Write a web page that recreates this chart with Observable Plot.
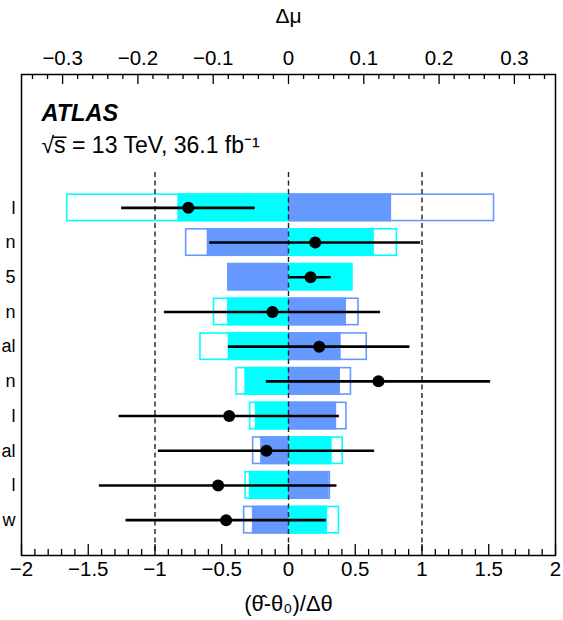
<!DOCTYPE html>
<html>
<head>
<meta charset="utf-8">
<script src="https://cdn.jsdelivr.net/npm/d3@7"></script>
<script src="https://cdn.jsdelivr.net/npm/@observablehq/plot@0.6"></script>
<style>
  html, body { margin: 0; padding: 0; background: #fff; }
  #chart svg { display: block; }
</style>
</head>
<body>
<div id="chart"></div>
<script>
// ---- data ----
const labels = ["l", "n", "5", "n", "al", "n", "l", "al", "l", "w"];
const pull    = [-0.75, 0.20, 0.165, -0.12, 0.23, 0.674, -0.444, -0.165, -0.527, -0.467];
const pullErr = [0.50, 0.79, 0.155, 0.81, 0.68, 0.84, 0.825, 0.81, 0.89, 0.75];
// impacts on mu (Δμ) of +1σ (cyan) and −1σ (blue) variations
const impactUpPost   = [-0.147, 0.114, 0.086, -0.081, -0.080, -0.058, -0.044, 0.058, -0.052, 0.052];
const impactDownPost = [0.137, -0.108, -0.081, 0.077, 0.070, 0.069, 0.064, -0.037, 0.054, -0.048];
const impactUpPre    = [-0.295, 0.145, null, -0.100, -0.118, -0.070, -0.052, 0.073, -0.058, 0.068];
const impactDownPre  = [0.274, -0.137, null, 0.094, 0.105, 0.084, 0.078, -0.048, 0.056, -0.060];
const pullTicks  = [-2, -1.5, -1, -0.5, 0, 0.5, 1, 1.5, 2];
const muTicks    = [-0.3, -0.2, -0.1, 0, 0.1, 0.2, 0.3];
const refLines   = [-1, 0, 1];

// ---- layout / scale helpers ----
const MU_MAX = 0.3546;            // Δμ at the right edge of the frame (pull = 2)
const K = 2 / MU_MAX;              // Δμ -> pull-axis units
const W = 563, H = 620;
const mL = 21, mR = 8, mT = 74, mB = 65;
const frameH = H - mT - mB;
const Y_TOP = -3.843, Y_BOT = 10.019;
const HALF = 0.4035;
const CYAN = "#00ffff", BLUE = "#6699ff";
const fmt = v => (v < 0 ? "\u2212" : "") + String(Math.abs(+v.toFixed(2)));

const rows = labels.map((l, i) => ({
  i, label: l, pull: pull[i], err: pullErr[i],
  upPost: impactUpPost[i], downPost: impactDownPost[i],
  upPre: impactUpPre[i], downPre: impactDownPre[i]
}));
const pre = rows.filter(d => d.upPre != null);

const minorPull = d3.range(-20, 21).map(v => v / 10).filter(v => Math.abs(v * 2 - Math.round(v * 2)) > 1e-9);
const minorMu = d3.range(-17, 18).map(v => v * 0.02).filter(v => Math.abs(v * 10 - Math.round(v * 10)) > 1e-9);

const font = "'Liberation Sans', Arial, Helvetica, sans-serif";

const chart = Plot.plot({
  width: W, height: H,
  marginLeft: mL, marginRight: mR, marginTop: mT, marginBottom: mB,
  style: { fontFamily: font, background: "white", overflow: "visible" },
  x: { domain: [-2, 2], axis: null },
  y: { domain: [Y_TOP, Y_BOT], range: [mT, H - mB], axis: null },
  marks: [
    // prefit impacts (outlined)
    Plot.rect(pre, { x1: 0, x2: d => d.upPre * K, y1: d => d.i - HALF, y2: d => d.i + HALF,
      fill: "white", stroke: CYAN, strokeWidth: 1.6, inset: 0.8 }),
    Plot.rect(pre, { x1: 0, x2: d => d.downPre * K, y1: d => d.i - HALF, y2: d => d.i + HALF,
      fill: "white", stroke: BLUE, strokeWidth: 1.6, inset: 0.8 }),
    // postfit impacts (filled)
    Plot.rect(rows, { x1: 0, x2: d => d.upPost * K, y1: d => d.i - HALF, y2: d => d.i + HALF, fill: CYAN }),
    Plot.rect(rows, { x1: 0, x2: d => d.downPost * K, y1: d => d.i - HALF, y2: d => d.i + HALF, fill: BLUE }),
    // reference lines
    Plot.ruleX(refLines, { stroke: "#222", strokeWidth: 1.4, strokeDasharray: "5,3.5", insetTop: 98 }),
    // pulls
    Plot.ruleY(rows, { y: "i", x1: d => d.pull - d.err, x2: d => d.pull + d.err, stroke: "black", strokeWidth: 2.6 }),
    Plot.dot(rows, { x: "pull", y: "i", r: 6, fill: "black" }),
    // frame
    Plot.frame({ stroke: "black", strokeWidth: 1.5 }),
    // bottom axis ticks (pointing inward)
    Plot.tickX(pullTicks, { x: d => d, stroke: "black", strokeWidth: 1.3, insetTop: frameH - 11 }),
    Plot.tickX(minorPull, { x: d => d, stroke: "black", strokeWidth: 1.3, insetTop: frameH - 6 }),
    // top axis ticks
    Plot.tickX(muTicks, { x: d => d * K, stroke: "black", strokeWidth: 1.3, insetBottom: frameH - 10 }),
    Plot.tickX(minorMu, { x: d => d * K, stroke: "black", strokeWidth: 1.3, insetBottom: frameH - 5 }),
    // tick labels
    Plot.text(pullTicks, { x: d => d, text: d => fmt(d), frameAnchor: "bottom", dy: 14,
      lineAnchor: "middle", fontSize: 20.5, fill: "black" }),
    Plot.text(muTicks, { x: d => d * K, text: d => fmt(d), frameAnchor: "top", dy: -16,
      lineAnchor: "middle", fontSize: 20.5, fill: "black" }),
    // axis titles
    Plot.text(["(\u03B8\u0302-\u03B8\u2080)/\u0394\u03B8"], { frameAnchor: "bottom", dy: 48,
      lineAnchor: "middle", fontSize: 22, fill: "black" }),
    Plot.text(["\u0394\u03BC"], { frameAnchor: "top", dy: -58, lineAnchor: "middle", fontSize: 21, fill: "black" }),
    // row labels (only their tails fit in the reference)
    Plot.text(rows, { y: "i", text: "label", frameAnchor: "left", dx: -6, textAnchor: "end",
      lineAnchor: "middle", fontSize: 18, fill: "black" }),
    // ATLAS label
    Plot.text(["ATLAS"], { frameAnchor: "top-left", dx: 20, dy: 46, textAnchor: "start", lineAnchor: "bottom",
      fontSize: 23.5, fontWeight: "bold", fontStyle: "italic", fill: "black" }),
    Plot.text(["\u221As\u0305 = 13 TeV, 36.1 fb\u207B\u00B9"], { frameAnchor: "top-left", dx: 20, dy: 78,
      textAnchor: "start", lineAnchor: "bottom", fontSize: 23, fill: "black" })
  ]
});
document.getElementById("chart").appendChild(chart);
</script>
</body>
</html>
